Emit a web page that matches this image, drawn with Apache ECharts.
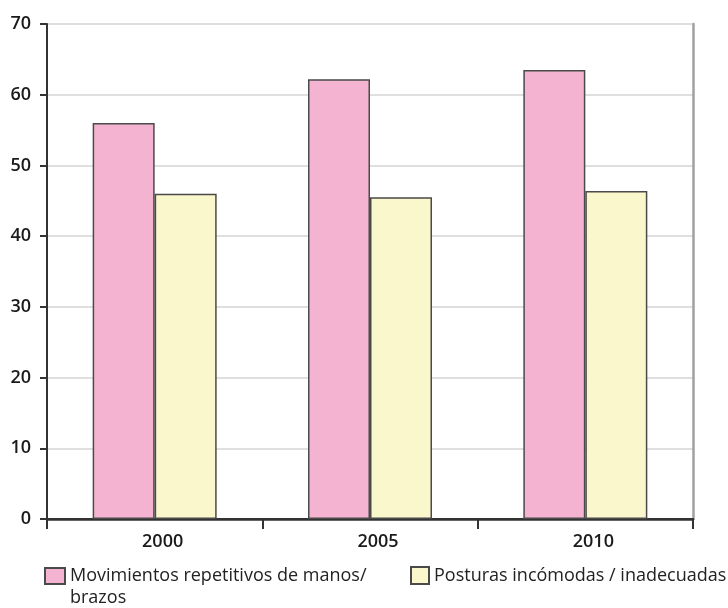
<!DOCTYPE html>
<html>
<head>
<meta charset="utf-8">
<script src="https://cdn.jsdelivr.net/npm/echarts@6/dist/echarts.min.js"></script>
<style>
  html, body { margin: 0; padding: 0; background: #fff; }
  #chart { width: 728px; height: 608px; }
</style>
</head>
<body>
<div id="chart"></div>
<script>
// Years on the category axis
const years = ['2000', '2005', '2010'];
// Series names and values (%)
const nameArms = 'Movimientos repetitivos de manos/\nbrazos';
const namePosture = 'Posturas incómodas / inadecuadas';
const armsValues = [56, 62.2, 63.5];
const postureValues = [46, 45.5, 46.4];
// Value axis scale
const yMin = 0, yMax = 70, yStep = 10;

const fontFamily = '"Open Sans", "DejaVu Sans", sans-serif';
const chart = echarts.init(document.getElementById('chart'), null, { renderer: 'canvas' });

const barBorder = { borderColor: '#4a4a4a', borderWidth: 1.5 };

chart.setOption({
  animation: false,
  backgroundColor: '#ffffff',
  grid: { left: 47, right: 35, top: 24, bottom: 89, containLabel: false },
  legend: [
    {
      // two-line entry: a blank lead line keeps the first line level with the swatch
      left: 44, top: 543, padding: 0,
      icon: 'rect',
      itemWidth: 20, itemHeight: 16, itemGap: 0,
      data: [nameArms],
      formatter: name => ' \n' + name,
      textStyle: { fontFamily, fontSize: 18, color: '#222', lineHeight: 22 }
    },
    {
      left: 410, top: 566, padding: 0,
      icon: 'rect',
      itemWidth: 18, itemHeight: 17,
      data: [namePosture],
      textStyle: { fontFamily, fontSize: 18, color: '#222' }
    }
  ],
  xAxis: [
    {
      type: 'category',
      data: years,
      boundaryGap: true,
      axisLine: { lineStyle: { color: '#333', width: 2 } },
      axisTick: { show: true, length: 10, interval: 0, lineStyle: { color: '#333', width: 2 } },
      axisLabel: { margin: 14, padding: [0, 0, 0, 16], fontFamily, fontSize: 18, fontWeight: 600, color: '#1a1a1a' }
    },
    {
      type: 'category',
      data: years,
      position: 'top',
      axisLine: { lineStyle: { color: '#333', width: 2.5 } },
      axisTick: { show: false },
      axisLabel: { show: false }
    }
  ],
  yAxis: [
    {
      type: 'value',
      min: yMin, max: yMax, interval: yStep,
      axisLine: { show: true, lineStyle: { color: '#333', width: 2 } },
      axisTick: { show: true, length: 7, lineStyle: { color: '#333', width: 2 } },
      axisLabel: { margin: 16, fontFamily, fontSize: 18, fontWeight: 600, color: '#1a1a1a' },
      splitLine: { show: true, lineStyle: { color: '#d4d4d4', width: 1.5 } }
    },
    {
      type: 'value',
      position: 'right',
      min: yMin, max: yMax, interval: yStep,
      axisLine: { show: true, lineStyle: { color: '#a0a0a0', width: 2.5 } },
      axisTick: { show: false },
      axisLabel: { show: false },
      splitLine: { show: false }
    }
  ],
  series: [
    {
      name: nameArms,
      type: 'bar',
      data: armsValues,
      barWidth: 62,
      barGap: '0%',
      itemStyle: Object.assign({ color: '#f4b4d1' }, barBorder)
    },
    {
      name: namePosture,
      type: 'bar',
      data: postureValues,
      barWidth: 62,
      barGap: '0%',
      itemStyle: Object.assign({ color: '#fbf7cc' }, barBorder)
    }
  ]
});
</script>
</body>
</html>
